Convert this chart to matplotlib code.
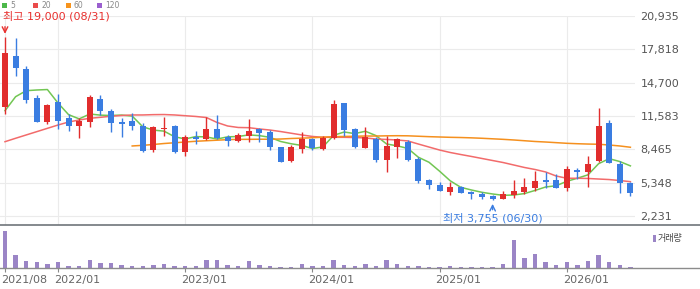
import matplotlib.pyplot as plt
import numpy as np
import pandas as pd
from matplotlib.lines import Line2D
from matplotlib.patches import Rectangle
from matplotlib.transforms import ScaledTranslation

plt.rcParams['font.family'] = ['DejaVu Sans', 'Noto Sans CJK KR']

# 월봉 데이터 (2021/08 ~ 2026/07)
opens = [12450, 17190, 15980, 13240, 11050, 12860, 11370, 10650, 11050, 13170,
         12050, 11020, 11120, 10650, 8400, 10370, 10650, 8250, 9650, 9400,
         10370, 9620, 9270, 9740, 10340, 10120, 8660, 7400, 8500, 9400,
         8500, 9500, 12770, 10340, 8620, 9400, 7470, 8710, 9120, 7560,
         5600, 5130, 4480, 4970, 4500, 4320, 4100, 3820, 4200, 4480,
         4880, 5600, 5600, 4820, 6530, 6370, 7380, 10900, 7090, 5290]
highs = [19000, 18900, 16260, 13550, 12700, 13640, 11770, 11370, 13550, 13550,
         12210, 11370, 11840, 10900, 10650, 11520, 10770, 9810, 10180, 11520,
         11680, 9810, 9970, 11300, 10430, 10270, 8710, 8870, 10060, 9550,
         9710, 13080, 12830, 10430, 10580, 9650, 9710, 9500, 9340, 7720,
         5690, 5380, 5380, 5070, 4600, 4500, 4200, 4600, 5600, 5760,
         6470, 6350, 6130, 6910, 6690, 7840, 12300, 11210, 7380, 5410]
lows = [11740, 15350, 12830, 11000, 10810, 10340, 10210, 9550, 10580, 11680,
        10120, 9650, 10270, 8250, 8220, 9710, 8150, 7870, 8960, 9340,
        9400, 8810, 9120, 9180, 9180, 8400, 7280, 7310, 8100, 8400,
        8450, 9400, 9740, 8590, 8590, 7310, 6370, 7630, 7380, 5350,
        4760, 4560, 4220, 4380, 3820, 3800, 3755, 3790, 3940, 4290,
        4600, 4880, 4850, 4600, 5660, 4970, 7250, 7160, 4410, 4130]
closes = [17450, 16100, 13080, 11050, 12610, 11140, 10650, 11120, 13330, 12080,
          10960, 10860, 10650, 8310, 10530, 10490, 8220, 9620, 9430, 10370,
          9500, 9250, 9780, 10180, 10020, 8710, 7310, 8710, 9400, 8560,
          9500, 12700, 10270, 8660, 9650, 7470, 8780, 9400, 7470, 5500,
          5130, 4600, 4920, 4410, 4260, 4040, 3820, 4290, 4570, 4920,
          5500, 5440, 4880, 6630, 6370, 7090, 10650, 7220, 5290, 4350]
volumes = [3670, 1330, 730, 630, 430, 630, 230, 230, 830, 530,
           530, 330, 230, 230, 330, 430, 230, 230, 230, 830,
           830, 330, 230, 730, 330, 230, 130, 130, 430, 230,
           230, 830, 330, 230, 430, 230, 830, 430, 230, 230,
           130, 130, 230, 130, 130, 130, 130, 430, 2830, 1030,
           1430, 630, 330, 630, 330, 730, 1330, 630, 330, 130]

# 5개월선 계산용: 차트 이전 4개월 종가
prev_closes = [9555, 10274, 10725, 12395]
# 20, 60개월선은 이전 구간 데이터가 없어서 그림에서 읽은 값
ma20 = [9180, 9500, 9810, 10120, 10430, 10740, 11020, 11210, 11370, 11460,
        11560, 11630, 11680, 11680, 11710, 11720, 11680, 11610, 11540, 11440,
        10980, 10650, 10510, 10490, 10370, 10270, 10130, 9970, 9810, 9670,
        9590, 9590, 9590, 9570, 9530, 9430, 9390, 9340, 9250, 8960,
        8680, 8400, 8170, 7980, 7800, 7610, 7420, 7230, 7000, 6770,
        6580, 6350, 5970, 5760, 5760, 5740, 5690, 5640, 5550, 5440]
ma60 = [np.nan] * 12 + [8780, 8840, 8920, 9010, 9080, 9150, 9220, 9270, 9320, 9370,
                        9400, 9400, 9410, 9410, 9430, 9480, 9510, 9550, 9600, 9650,
                        9670, 9690, 9710, 9710, 9730, 9740, 9730, 9690, 9650, 9620,
                        9590, 9570, 9540, 9500, 9450, 9400, 9340, 9270, 9200, 9150,
                        9090, 9030, 8990, 8960, 8940, 8870, 8780, 8660]

tick_idx = [0, 5, 17, 29, 41, 53]
tick_labels = ['2021/08', '2022/01', '2023/01', '2024/01', '2025/01', '2026/01']
price_ticks = [2231, 5348, 8465, 11583, 14700, 17818, 20935]

x = np.arange(len(closes))
o = np.array(opens)
c = np.array(closes)
ma5 = pd.Series(prev_closes + closes).rolling(5).mean().to_numpy()[4:]

RED = '#e12d2d'
BLUE = '#3a7de1'
W, H = 700, 289

fig = plt.figure(figsize=(7, 2.89), dpi=100)
ax = fig.add_axes([0, 1 - 225 / H, 635 / W, 209 / H])
axv = fig.add_axes([0, 1 - 268 / H, 635 / W, 43 / H], sharex=ax)

# 이동평균선
ax.plot(x, ma5, color='#72c653', lw=1.1, zorder=2)
ax.plot(x, ma20, color='#f26b6b', lw=1.1, zorder=2)
ax.plot(x, ma60, color='#f5901e', lw=1.1, zorder=2)

# 캔들
cores = np.where(c >= o, RED, BLUE)
ax.vlines(x, lows, highs, colors=cores, lw=1, zorder=3)
corpo = np.maximum(np.abs(c - o), 90)
ax.bar(x, corpo, bottom=np.minimum(o, c), width=0.55, color=cores, zorder=4)

ax.set_xlim(-5 / 10.6, 630 / 10.6)
ax.set_ylim(2231 - 9 * 93.52, 20935)
ax.set_yticks(price_ticks)
ax.set_yticklabels([f'{v:,}' for v in price_ticks])
ax.yaxis.tick_right()
ax.set_xticks(tick_idx)
ax.tick_params(axis='x', length=0, labelbottom=False)
ax.tick_params(axis='y', length=0, pad=4, labelsize=8, labelcolor='#555555')
ax.grid(color='#ebebeb', lw=0.8, zorder=0)
ax.set_axisbelow(True)
for s in ax.spines.values():
    s.set_visible(False)

# 최고 / 최저 표시
ax.annotate('최고 19,000 (08/31)', xy=(0, 19000), xytext=(-2, 20), textcoords='offset pixels',
            ha='left', va='center', color='#e8302e', fontsize=8, annotation_clip=False)
ax.annotate('', xy=(0, 19000), xytext=(0, 10), textcoords='offset pixels',
            arrowprops=dict(arrowstyle='->', color='#e8302e', lw=1, shrinkA=0, shrinkB=2))
ax.annotate('최저 3,755 (06/30)', xy=(46, 3755), xytext=(0, -19), textcoords='offset pixels',
            ha='center', va='center', color=BLUE, fontsize=8, annotation_clip=False)
ax.annotate('', xy=(46, 3755), xytext=(0, -10), textcoords='offset pixels',
            arrowprops=dict(arrowstyle='->', color=BLUE, lw=1, shrinkA=0, shrinkB=3))

# 거래량
axv.bar(x, volumes, width=0.42, color='#9b85c6')
axv.set_ylim(0, 4300)
axv.set_yticks([])
axv.set_xticks(tick_idx)
axv.set_xticklabels(tick_labels)
axv.tick_params(axis='x', length=3, width=0.8, color='#888888', pad=2,
                labelsize=8, labelcolor='#666666')
desloc = ScaledTranslation(-4 / 100, 0, fig.dpi_scale_trans)
for lbl in axv.get_xticklabels():
    lbl.set_horizontalalignment('left')
    lbl.set_transform(lbl.get_transform() + desloc)
for s in axv.spines.values():
    s.set_visible(False)

fig.add_artist(Line2D([0, 1], [1 - 225 / H] * 2, transform=fig.transFigure, color='#70757a', lw=1.2))
fig.add_artist(Line2D([0, 1], [1 - 268 / H] * 2, transform=fig.transFigure, color='#8c8c8c', lw=1))

# 범례 (상단)
legenda = [('5', '#4db84a', 2), ('20', '#ea4b4b', 33), ('60', '#f7941d', 66), ('120', '#9b5fcf', 97)]
for nome, cor, px in legenda:
    fig.add_artist(Rectangle((px / W, 1 - 8 / H), 5 / W, 5 / H, transform=fig.transFigure,
                             color=cor, lw=0))
    fig.text((px + 8) / W, 1 - 5.5 / H, nome, fontsize=5.5, color='#888888', va='center')

fig.add_artist(Rectangle((653 / W, 1 - 242 / H), 3 / W, 7 / H, transform=fig.transFigure,
                         color='#9b85c6', lw=0))
fig.text(658 / W, 1 - 238.5 / H, '거래량', fontsize=6.5, color='#444444', va='center')

fig.savefig('out.png', dpi=100)
